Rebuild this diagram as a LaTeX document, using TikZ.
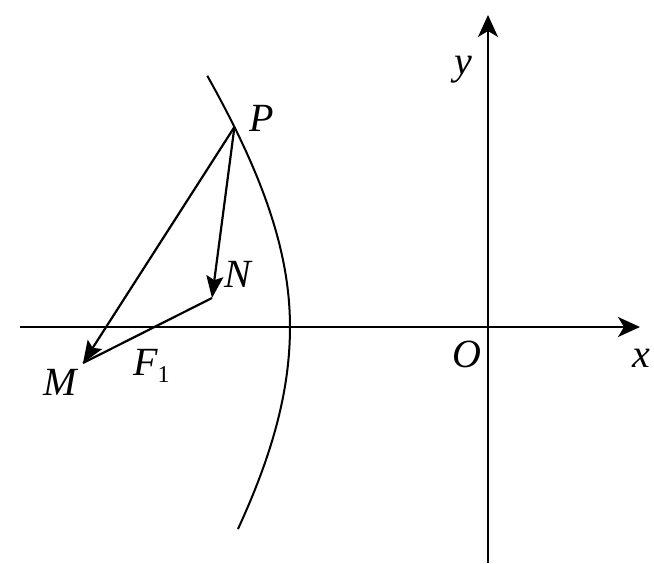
\documentclass[tikz,border=0pt]{standalone}
\usepackage{fontspec}
\setmainfont{Liberation Serif}
\usetikzlibrary{arrows.meta}
\begin{document}
\begin{tikzpicture}[x=1pt,y=-1pt,
  line/.style={line width=2.2pt,black},
  axis/.style={line width=2pt,-{Stealth[length=22pt,width=20pt,inset=6pt]}},
  vec/.style={line width=2.2pt,-{Stealth[length=22pt,width=17pt,inset=4pt]}},
  lab/.style={font=\fontsize{40}{40}\selectfont\itshape,inner sep=0pt}]
\useasboundingbox (0,0) rectangle (654,563);
% axes
\coordinate (xs) at (20,327);
\coordinate (xe) at (640,327);
\coordinate (ys) at (488,563);
\coordinate (ye) at (488,15);
\draw[axis] (xs) -- (xe);
\draw[axis] (ys) -- (ye);
% curve (left branch)
\draw[line,line width=2pt] plot[domain=0.885:0,samples=40,variable=\t] ({488-198*cosh(\t)},{327-250*sinh(\t)})
  -- plot[domain=0:0.71,samples=40,variable=\t] ({488-198*cosh(\t)},{327+262*sinh(\t)});
% points
\coordinate (P) at ({488-198*sqrt(1.64)},127);
\coordinate (N) at (212,298);
\coordinate (M) at (83,363);
\draw[line] (N) -- (M);
\draw[vec] (P) -- (M);
\draw[vec] (P) -- (N);
% labels
\node[lab] (lP) at (262,118) {P};
\node[lab] (lN) at (238,274) {N};
\node[lab] (lM) at (60,382) {M};
\node[lab,anchor=base west] (lF) at (133,375) {F\raisebox{-7pt}{\fontsize{24}{24}\selectfont\upshape 1}};
\node[lab] (lO) at (467,354) {O};
\node[lab] (lx) at (641,358) {x};
\node[lab] (ly) at (463,70) {y};
\end{tikzpicture}
\end{document}
